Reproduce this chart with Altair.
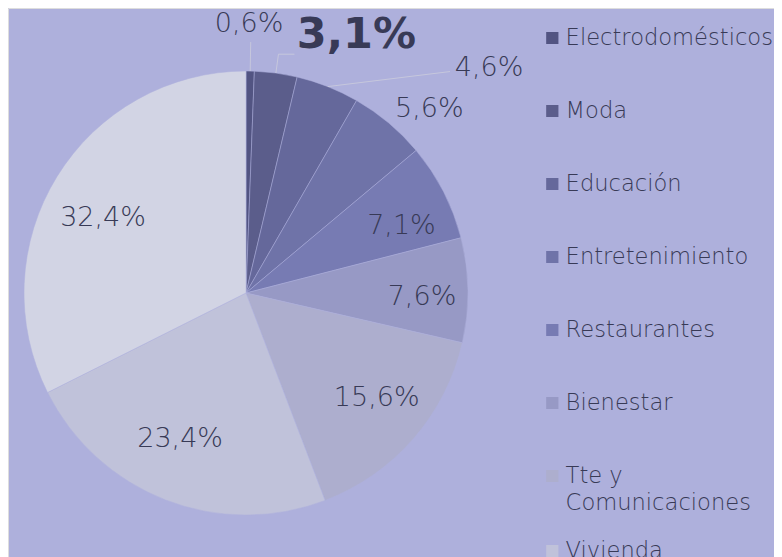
import math
import altair as alt
import pandas as pd

# ---- data ----
categories = ["Electrodomésticos", "Moda", "Educación", "Entretenimiento",
              "Restaurantes", "Bienestar", "Tte y Comunicaciones", "Vivienda",
              "Alimentación"]
values = [0.6, 3.1, 4.6, 5.6, 7.1, 7.6, 15.6, 23.4, 32.4]
labels = [f"{v:.1f}%".replace(".", ",") for v in values]

colors = ["#525482", "#5b5d8b", "#65689b", "#6f73a8", "#777bb3",
          "#9799c5", "#adaece", "#c0c2da", "#d2d4e4"]

df = pd.DataFrame({"category": categories, "value": values,
                   "label": labels, "idx": list(range(len(values)))})

BG = "#aeb0dc"
TXT = "#383a56"
LEAD = "#c6c7dd"
FONT = "DejaVu Sans"
WEIGHT = 300
CX, CY, R = 238, 285, 222

theta_scale = alt.Scale(domain=[0, 100], range=[0, 2 * math.pi])

base = alt.Chart(df).transform_window(
    end="sum(value)", sort=[alt.SortField("idx", order="ascending")],
    frame=[None, 0]
).transform_calculate(
    start="datum.end - datum.value",
    mid="datum.end - datum.value / 2",
    ang="(datum.end - datum.value / 2) * PI / 50",
)

arcs = base.mark_arc(outerRadius=R, stroke=BG, strokeWidth=0.5).encode(
    theta=alt.Theta("start:Q", scale=theta_scale),
    theta2="end:Q",
    color=alt.Color(
        "category:N",
        scale=alt.Scale(domain=categories, range=colors),
        sort=categories,
        legend=alt.Legend(
            title=None, orient="none", legendX=533, legendY=-6.4,
            symbolType="square", symbolSize=150, symbolStrokeWidth=0,
            labelFont=FONT, labelFontSize=22.6, labelColor=TXT,
            labelFontWeight=WEIGHT,
            labelOffset=2, rowPadding=0, clipHeight=72.8,
            labelLimit=400, padding=0,
            labelExpr="datum.label == 'Tte y Comunicaciones' ? ['Tte y', 'Comunicaciones'] : datum.label",
        ),
    ),
    x=alt.value(CX), y=alt.value(CY),
)


def one(cat):
    return base.transform_filter(alt.datum.category == cat)


def txt(layer, **kw):
    style = dict(font=FONT, fontSize=27, color=TXT, align="center",
                 baseline="middle", fontWeight=WEIGHT)
    style.update(kw)
    return layer.mark_text(**style).encode(
        theta=alt.Theta("mid:Q", scale=theta_scale),
        text="label:N",
        x=alt.value(CX), y=alt.value(CY),
    )


lab_71 = txt(one("Restaurantes"), radius=168, dx=6, dy=10)
lab_76 = txt(one("Bienestar"), radius=168, dx=8, dy=6)
lab_156 = txt(one("Tte y Comunicaciones"), radius=168, dx=4, dy=-5)
lab_234 = txt(one("Vivienda"), radius=168, dx=-5, dy=-11)
lab_324 = txt(one("Alimentación"), radius=168, dx=0, dy=13)
lab_06 = txt(one("Electrodomésticos"), radius=269, dx=-2)
lab_31 = txt(one("Moda"), radius=270, dx=74, dy=10, fontSize=43, fontWeight="bold")
lab_46 = txt(one("Educación"), radius=250, dx=151, dy=7)
lab_56 = txt(one("Entretenimiento"), radius=259, dx=17, dy=15)


def leader(layer, r1, r2, ddx=0, ddy=0):
    return layer.transform_calculate(
        lx1=f"{CX} + {r1} * sin(datum.ang)",
        ly1=f"{CY} - {r1} * cos(datum.ang)",
        lx2=f"{CX} + {r2} * sin(datum.ang) + {ddx}",
        ly2=f"{CY} - {r2} * cos(datum.ang) + {ddy}",
    ).mark_rule(color=LEAD, strokeWidth=1).encode(
        x=alt.X("lx1:Q", scale=None, axis=None),
        y=alt.Y("ly1:Q", scale=None, axis=None),
        x2="lx2:Q", y2="ly2:Q",
    )


lead_06 = leader(one("Electrodomésticos"), R, 251)
lead_31a = leader(one("Moda"), R, 241)
lead_31b = leader(one("Moda"), 241, 241, ddx=16)
lead_46 = leader(one("Educación"), R, 250, ddx=112, ddy=11)

chart = alt.layer(
    arcs, lead_06, lead_31a, lead_31b, lead_46,
    lab_71, lab_76, lab_156, lab_234, lab_324,
    lab_06, lab_31, lab_46, lab_56,
).properties(
    width=766, height=549, padding=0, autosize="none", background=BG,
).configure_view(stroke=None).configure(
    style={"guide-label": {"lineHeight": 27}}
)

chart.save("out.html", embed_options={"renderer": "svg", "actions": False})
